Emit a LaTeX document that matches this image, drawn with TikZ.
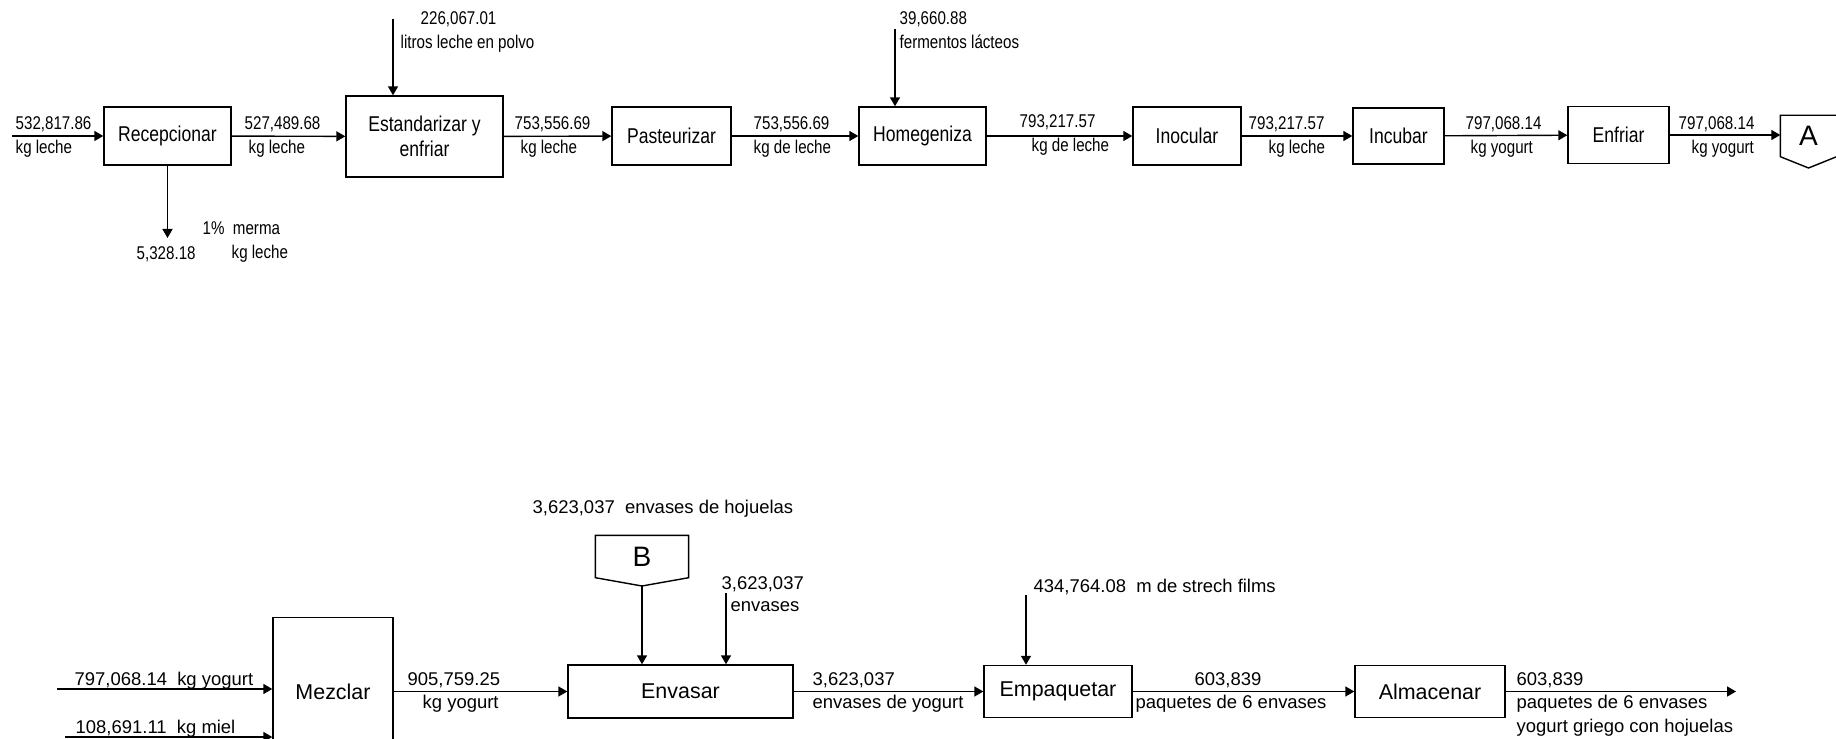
\documentclass[tikz,border=0pt]{standalone}
\usepackage{fontspec}
\setmainfont{Liberation Sans}
\newfontfamily\narrowfont[FakeStretch=0.82]{Liberation Sans}
\usetikzlibrary{arrows.meta, calc, positioning}

\begin{document}
\begin{tikzpicture}[x=0.02cm, y=-0.02cm, line width=0.8pt,
    flow/.style={-{Triangle[length=1.8mm, width=2mm]}},
    proc/.style={draw, rectangle, align=center, inner sep=0pt},
    topproc/.style={proc, font=\narrowfont\fontsize{12.2}{14.2}\selectfont},
    botproc/.style={proc, font=\fontsize{12.2}{14.2}\selectfont},
    toplbl/.style={anchor=base west, inner sep=0pt, font=\narrowfont\fontsize{10.5}{12}\selectfont},
    botlbl/.style={anchor=base west, inner sep=0pt, font=\fontsize{10.5}{12}\selectfont},
    conn/.style={rectangle, inner sep=0pt, font=\fontsize{16}{18}\selectfont}]

    \path[fill=white, use as bounding box] (0,0) rectangle (1836,739);

    % Upper line: processes
    \node[topproc, minimum width=2.54cm, minimum height=1.16cm] (rec) at (167.5,136) {Recepcionar};
    \node[topproc, minimum width=3.14cm, minimum height=1.62cm] (est) at (424.5,136.5) {Estandarizar y\\enfriar};
    \node[topproc, minimum width=2.38cm, minimum height=1.16cm] (pas) at (671.5,136) {Pasteurizar};
    \node[topproc, minimum width=2.54cm, minimum height=1.16cm] (hom) at (922.5,136) {Homegeniza};
    \node[topproc, minimum width=2.16cm, minimum height=1.16cm] (ino) at (1187,136) {Inocular};
    \node[topproc, minimum width=1.82cm, minimum height=1.12cm] (inc) at (1398.5,136) {Incubar};
    \node[topproc, minimum width=2.02cm, minimum height=1.14cm] (enf) at (1618.5,135) {Enfriar};

    % Connector A
    \node[conn, minimum width=1.1cm, minimum height=0.8cm] (A) at (1808.5,136) {A};
    \coordinate (Atip) at (1808.5,168);
    \draw (A.north west) -- (A.north east) -- (A.south east) -- (Atip) -- (A.south west) -- cycle;

    % Upper line: inputs and outputs
    \coordinate (in1) at (12,136);
    \coordinate (loss) at (168,238);
    \coordinate (powder) at (393,19);
    \coordinate (ferm) at (895,29);

    \draw[flow] (in1) -- (rec);
    \draw[flow] (rec.south) -- (rec.south |- loss);
    \draw[flow] (powder) -- (powder |- est.north);
    \draw[flow] (ferm) -- (ferm |- hom.north);
    \foreach \a/\b in {rec/est, est/pas, pas/hom, hom/ino, ino/inc, inc/enf} {
        \draw[flow] (\a) -- (\b);
    }
    \draw[flow] (enf.east) -- (enf.east -| A.west);

    % Upper line: quantities
    \node[toplbl] (q1) at (15,129.5) {532,817.86};
    \node[toplbl] (u1) at (15,154) {kg leche};
    \node[toplbl] (q2) at (244,129.5) {527,489.68};
    \node[toplbl] (u2) at (248,154) {kg leche};
    \node[toplbl] (q3) at (514,129.5) {753,556.69};
    \node[toplbl] (u3) at (520,154) {kg leche};
    \node[toplbl] (q4) at (753,129.5) {753,556.69};
    \node[toplbl] (u4) at (753,154) {kg de leche};
    \node[toplbl] (q5) at (1019,127.5) {793,217.57};
    \node[toplbl] (u5) at (1031,152) {kg de leche};
    \node[toplbl] (q6) at (1248,129.5) {793,217.57};
    \node[toplbl] (u6) at (1268,154) {kg leche};
    \node[toplbl] (q7) at (1465,129.5) {797,068.14};
    \node[toplbl] (u7) at (1470,154) {kg yogurt};
    \node[toplbl] (q8) at (1678,129.5) {797,068.14};
    \node[toplbl] (u8) at (1691,154) {kg yogurt};

    \node[toplbl] (q9) at (136,259.5) {5,328.18};
    \node[toplbl] (m9) at (202,234.5) {1\%\ \ merma};
    \node[toplbl] (u9) at (231,258.6) {kg leche};
    \node[toplbl] (q10) at (420,24.5) {226,067.01};
    \node[toplbl] (u10) at (400,49) {litros leche en polvo};
    \node[toplbl] (q11) at (899,24.5) {39,660.88};
    \node[toplbl] (u11) at (899,49) {fermentos lácteos};

    % Lower line: processes
    \node[botproc, minimum width=2.4cm, minimum height=2.96cm] (mez) at (333,691.5) {Mezclar};
    \node[botproc, minimum width=4.5cm, minimum height=1.06cm] (env) at (680.5,691.5) {Envasar};
    \node[botproc, minimum width=2.96cm, minimum height=1.04cm] (emp) at (1058,691.5) {Empaquetar};
    \node[botproc, minimum width=3cm, minimum height=1.04cm] (alm) at (1430,691.5) {Almacenar};

    % Connector B
    \node[conn, minimum width=1.84cm, minimum height=0.82cm] (B) at (642,556.5) {B};
    \coordinate (Btip) at (642,586);
    \draw (B.north west) -- (B.north east) -- (B.south east) -- (Btip) -- (B.south west) -- cycle;

    % Lower line: inputs and outputs
    \coordinate (yog) at (57,689);
    \coordinate (miel) at (65,737);
    \coordinate (cans) at (726,593);
    \coordinate (film) at (1026,595);
    \coordinate (out) at (1736,691.5);

    \draw[flow] (yog) -- (yog -| mez.west);
    \draw[flow] (miel) -- (miel -| mez.west);
    \foreach \a/\b in {mez/env, env/emp, emp/alm, alm/out} {
        \draw[flow] (\a) -- (\b);
    }
    \draw[flow] (Btip) -- (Btip |- env.north);
    \draw[flow] (cans) -- (cans |- env.north);
    \draw[flow] (film) -- (film |- emp.north);

    % Lower line: quantities
    \node[botlbl] (q12) at (74,685) {797,068.14\ \ kg yogurt};
    \node[botlbl] (q13) at (75,733) {108,691.11\ \ kg miel};
    \node[botlbl] (q14) at (407,685) {905,759.25};
    \node[botlbl] (u14) at (422,708) {kg yogurt};
    \node[botlbl] (q15) at (532,513.5) {3,623,037\ \ envases de hojuelas};
    \node[botlbl] (q16) at (721,589.5) {3,623,037};
    \node[botlbl] (u16) at (730,611.5) {envases};
    \node[botlbl] (q17) at (812,685) {3,623,037};
    \node[botlbl] (u17) at (812,708) {envases de yogurt};
    \node[botlbl] (q18) at (1033,592.5) {434,764.08\ \ m de strech films};
    \node[botlbl] (q19) at (1194,685) {603,839};
    \node[botlbl] (u19) at (1135,708) {paquetes de 6 envases};
    \node[botlbl] (q20) at (1516,685) {603,839};
    \node[botlbl] (u20) at (1516,708) {paquetes de 6 envases};
    \node[botlbl] (u21) at (1516,732) {yogurt griego con hojuelas};

\end{tikzpicture}
\end{document}
